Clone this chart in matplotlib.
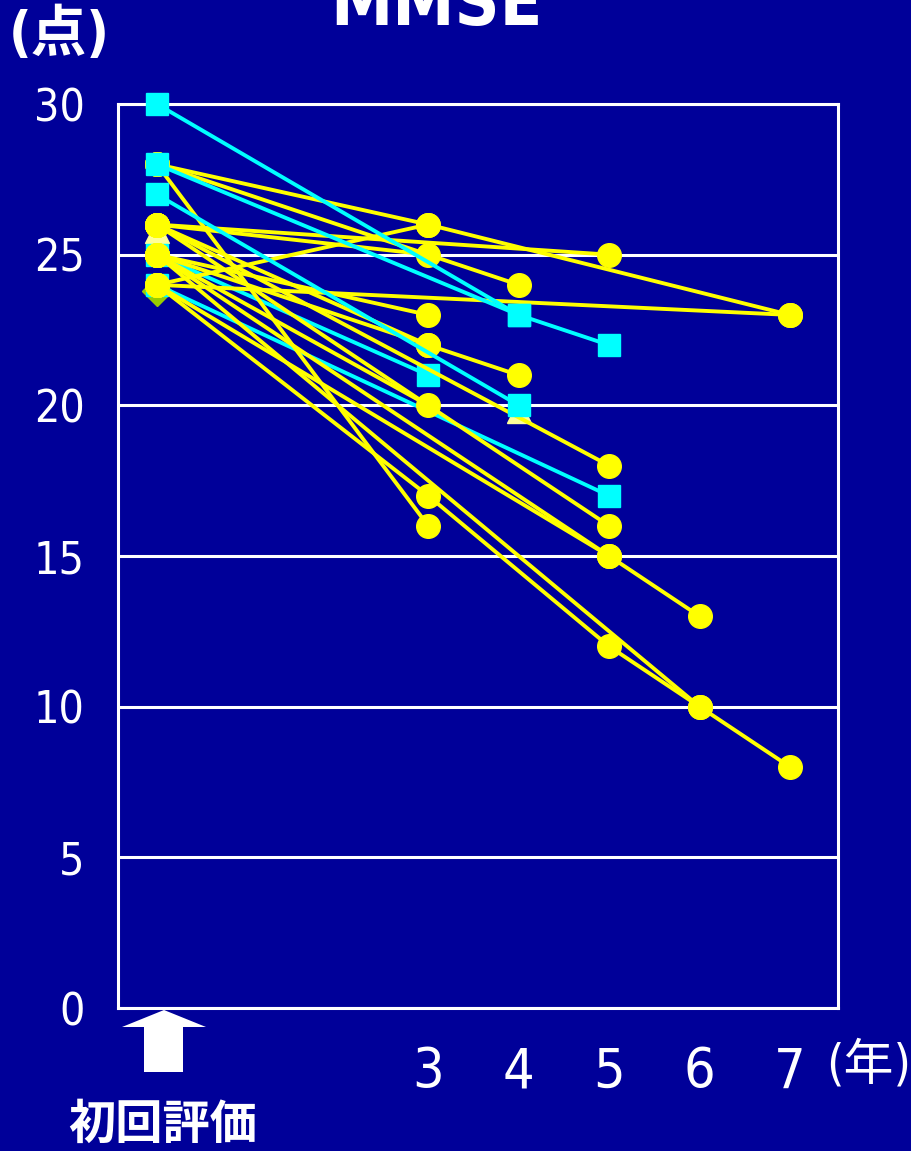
import matplotlib
matplotlib.use("Agg")
import matplotlib.pyplot as plt
from matplotlib.patches import Polygon

bg = "#000099"
yellow = "#FFFF00"
cyan = "#00FFFF"

# MMSE scores per patient: years since first assessment / score
cyan_years = [[0, 3], [0, 5], [0, 4], [0, 4, 5], [0, 4]]
cyan_scores = [[25, 21], [24, 17], [30, 23], [28, 23, 22], [27, 20]]
cyan_on_top = [False, False, True, True, True]

yellow_years = [
    [0, 3, 7], [0, 7], [0, 5], [0, 3], [0, 4], [0, 3], [0, 3], [0, 3, 4],
    [0, 3], [0, 5], [0, 5], [0, 5, 6], [0, 5], [0, 3, 5, 6, 7], [0, 6],
    [0, 3], [0, 3],
]
yellow_scores = [
    [28, 26, 23], [24, 23], [26, 25], [24, 26], [28, 24], [28, 16], [25, 23], [25, 22, 21],
    [25, 20], [26, 18], [26, 16], [25, 15, 13], [24, 15], [24, 17, 12, 10, 8], [25, 10],
    [26, 22], [26, 25],
]

# partly hidden markers of two more series
tri_years = [0, 4]
tri_scores = [25.8, 19.8]
dia_years = [0]
dia_scores = [23.8]

xticks = [3, 4, 5, 6, 7]
yticks = [0, 5, 10, 15, 20, 25, 30]

W, H = 912, 1151
narrow = ["DejaVu Sans", "Noto Sans CJK JP"]
cjk = ["Noto Sans CJK JP", "DejaVu Sans"]

fig = plt.figure(figsize=(W / 100, H / 100), dpi=100, facecolor=bg)
ax = fig.add_axes([118 / W, 1 - 1008 / H, (838 - 118) / W, (1008 - 104) / H])
ax.set_facecolor(bg)

ax.plot(tri_years, tri_scores, ls="none", marker="^", ms=17, color="#FFFF99", zorder=1.5)
ax.plot(dia_years, dia_scores, ls="none", marker="D", ms=15, color="#99CC00", zorder=1.5)

for xs, ys, top in zip(cyan_years, cyan_scores, cyan_on_top):
    ax.plot(xs, ys, color=cyan, lw=2.8, marker="s", ms=16.5,
            zorder=4 if top else 2, clip_on=False)

for xs, ys in zip(yellow_years, yellow_scores):
    ax.plot(xs, ys, color=yellow, lw=2.8, marker="o", ms=17, zorder=3, clip_on=False)

ax.set_xlim(-0.43, 7.53)
ax.set_ylim(0, 30)
ax.set_yticks(yticks)
ax.set_xticks(xticks)
ax.set_yticklabels([str(v) for v in yticks], family=narrow, stretch="condensed",
                   fontsize=32, color="white")
ax.set_xticklabels([str(v) for v in xticks], family=narrow, stretch="condensed",
                   fontsize=40, color="white")
ax.tick_params(axis="y", length=0, pad=24)
ax.tick_params(axis="x", length=0, pad=27)
ax.yaxis.grid(True, color="white", lw=2.2)
ax.set_axisbelow(True)
for s in ax.spines.values():
    s.set_color("white")
    s.set_linewidth(2.2)

fig.text(436 / W, 1 - 25 / H, "MMSE", ha="center", va="baseline",
         family=narrow, stretch="condensed", fontsize=50, fontweight="bold", color="white")
fig.text(9 / W, 1 - 36 / H, "(点)", ha="left", va="center",
         family=narrow, stretch="condensed", fontsize=40, fontweight="bold", color="white")
fig.text(826 / W, 1 - 1065 / H, "(年)", ha="left", va="center",
         family=narrow, stretch="condensed", fontsize=36, color="white")
fig.text(68 / W, 1 - 1125 / H, "初回評価", ha="left", va="center",
         family=cjk, fontsize=34, fontweight="bold", color="white")

# up arrow under the first assessment
arrow_px = [(164, 1010), (122, 1027), (144, 1027), (144, 1072),
            (183, 1072), (183, 1027), (206, 1027)]
fig.add_artist(Polygon([(x / W, 1 - y / H) for x, y in arrow_px], closed=True,
                       transform=fig.transFigure, facecolor="white", edgecolor="none"))

fig.savefig("out.png", dpi=100, facecolor=bg)
